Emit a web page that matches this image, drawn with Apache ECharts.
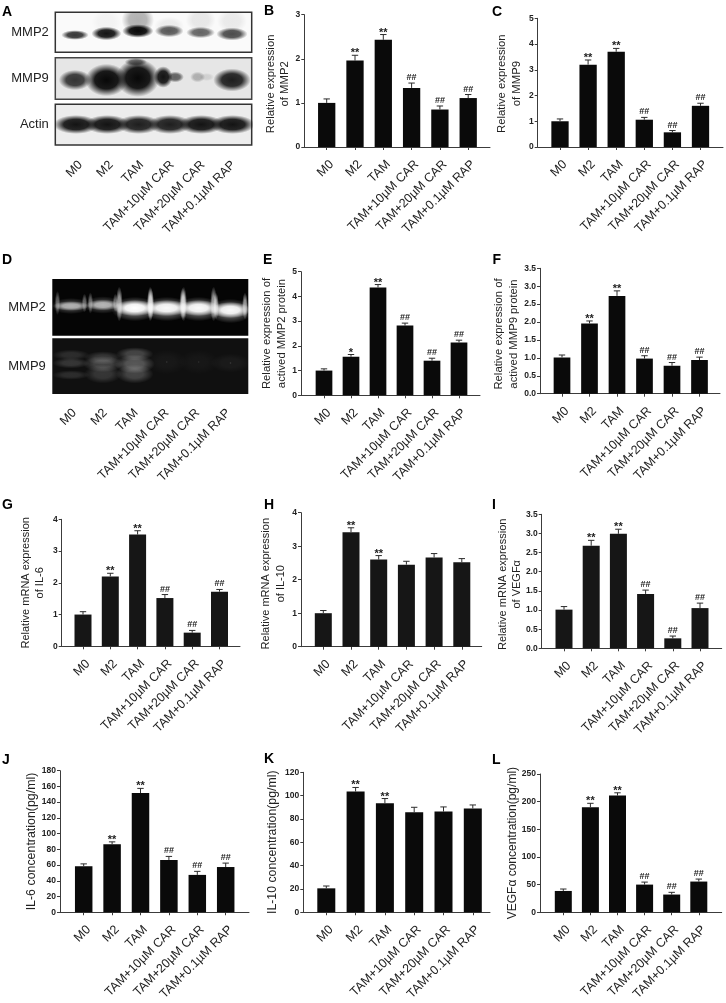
<!DOCTYPE html>
<html>
<head>
<meta charset="utf-8">
<style>html,body{margin:0;padding:0;background:#fff}#chart{width:726px;height:1003px;filter:blur(0.45px)}</style>
<script src="https://cdn.jsdelivr.net/npm/echarts@6/dist/echarts.min.js"></script>
</head>
<body>
<div id="chart"></div>
<script>
// ---------- data ----------
const categories = ['M0','M2','TAM','TAM+10µM CAR','TAM+20µM CAR','TAM+0.1µM RAP'];

const mmp2Protein      = [1.0,1.96,2.43,1.34,0.85,1.11];
const mmp2ProteinTop   = [1.09,2.08,2.55,1.45,0.93,1.19];
const mmp2ProteinSig   = ['','**','**','##','##','##'];
const mmp9Protein      = [1.0,3.2,3.7,1.06,0.57,1.6];
const mmp9ProteinTop   = [1.09,3.38,3.83,1.15,0.64,1.7];
const mmp9ProteinSig   = ['','**','**','##','##','##'];
const mmp2Active       = [1.0,1.56,4.36,2.82,1.4,2.14];
const mmp2ActiveTop    = [1.07,1.65,4.48,2.92,1.5,2.23];
const mmp2ActiveSig    = ['','*','**','##','##','##'];
const mmp9Active       = [1.01,1.96,2.73,0.98,0.78,0.94];
const mmp9ActiveTop    = [1.08,2.03,2.87,1.06,0.87,1.02];
const mmp9ActiveSig    = ['','**','**','##','##','##'];
const il6Mrna          = [1.0,2.2,3.52,1.52,0.43,1.72];
const il6MrnaTop       = [1.09,2.3,3.64,1.63,0.5,1.79];
const il6MrnaSig       = ['','**','**','##','##','##'];
const il10Mrna         = [1.0,3.42,2.6,2.45,2.66,2.52];
const il10MrnaTop      = [1.08,3.55,2.72,2.55,2.78,2.63];
const il10MrnaSig      = ['','**','**','','',''];
const vegfMrna         = [1.01,2.68,2.99,1.42,0.26,1.05];
const vegfMrnaTop      = [1.09,2.82,3.11,1.52,0.32,1.18];
const vegfMrnaSig      = ['','**','**','##','##','##'];
const il6Conc          = [58.5,86.5,151.5,66.5,47.5,57.5];
const il6ConcTop       = [61.5,89.5,157.5,71,52,62.5];
const il6ConcSig       = ['','**','**','##','##','##'];
const il10Conc         = [20.5,103.5,93.5,85.8,86.3,89];
const il10ConcTop      = [22.5,107,97.5,90,90.3,92];
const il10ConcSig      = ['','**','**','','',''];
const vegfConc         = [38.5,190,211,50,32,55.5];
const vegfConcTop      = [42,197,216,54.5,36,60];
const vegfConcSig      = ['','**','**','##','##','##'];

// blot band strengths, lane by lane
const wbMmp2   = [0.8,0.95,1.0,0.65,0.62,0.72];
const wbMmp2Up = [0,0.03,0.3,0.06,0.08,0.07];
const wbMmp9   = [0.8,1.0,1.0,0.95,0.25,0.9];
const wbActin  = [0.95,0.95,0.9,0.9,0.95,0.95];
const gelMmp2  = [0.6,0.62,1.0,0.97,0.97,0.97];
const gelMmp9  = [0.27,0.36,0.5,0.08,0.07,0.1];

// ---------- layout ----------
const FONT = '"Liberation Sans", Arial, sans-serif';
const BAR = '#0a0a0a', AXIS = '#3c3c3c', TEXT = '#222';
const panels = [
 {v:mmp2Protein,t:mmp2ProteinTop,s:mmp2ProteinSig,name:'Relative expression\nof MMP2',fs:11.3,pad:6,max:3,step:1,l:304.3,r:490,top:14.7,bot:147,c0:326.7,dx:28.3,w:17.3,gap:12},
 {v:mmp9Protein,t:mmp9ProteinTop,s:mmp9ProteinSig,name:'Relative expression\nof MMP9',fs:11.3,pad:2,max:5,step:1,l:537.7,r:723,top:18.3,bot:147,c0:560,dx:28.1,w:17.3,gap:14},
 {v:mmp2Active,t:mmp2ActiveTop,s:mmp2ActiveSig,name:'Relative expression of\nactived MMP2 protein',fs:11.3,pad:0,max:5,step:1,l:301,r:480,top:271.7,bot:395.3,c0:324,dx:27,w:16.7,gap:12},
 {v:mmp9Active,t:mmp9ActiveTop,s:mmp9ActiveSig,name:'Relative expression of\nactived MMP9 protein',fs:11.3,pad:6,max:3.5,step:0.5,dec:1,l:540,r:720,top:268.3,bot:393.7,c0:562,dx:27.5,w:16.7,gap:19},
 {v:il6Mrna,t:il6MrnaTop,s:il6MrnaSig,name:'Relative mRNA expression\nof IL-6',fs:11,pad:0,max:4,step:1,l:61.7,r:240,top:519.3,bot:646.3,c0:83,dx:27.3,w:17,gap:14,dark:1},
 {v:il10Mrna,t:il10MrnaTop,s:il10MrnaSig,name:'Relative mRNA expression\nof IL-10',fs:11,pad:8,max:4,step:1,l:301,r:481.7,top:512.7,bot:646.7,c0:323.3,dx:27.7,w:17,gap:13,dark:1},
 {v:vegfMrna,t:vegfMrnaTop,s:vegfMrnaSig,name:'Relative mRNA expression\nof VEGFα',fs:11,pad:6,max:3.5,step:0.5,dec:1,l:541.7,r:721.7,top:514.3,bot:648.3,c0:564,dx:27.2,w:17,gap:17,dark:1},
 {v:il6Conc,t:il6ConcTop,s:il6ConcSig,name:'IL-6 concentration(pg/ml)',fs:12.4,pad:0,max:180,step:20,l:60,r:249,top:770.7,bot:913,c0:83.7,dx:28.4,w:17.5,gap:21},
 {v:il10Conc,t:il10ConcTop,s:il10ConcSig,name:'IL-10 concentration(pg/ml)',fs:12.3,pad:0,max:120,step:20,l:303.3,r:490,top:772.3,bot:914.3,c0:326.3,dx:29.3,w:18,gap:23},
 {v:vegfConc,t:vegfConcTop,s:vegfConcSig,name:'VEGFα concentration(pg/ml)',fs:12,pad:0,max:250,step:50,l:540,r:721.7,top:774,bot:912.3,c0:563.3,dx:27.1,w:17,gap:20}
];

const letters = [['A',2,5],['B',264,4],['C',492,5],['D',2,253],['E',263,253],['F',492.5,253],['G',2,498],['H',264,498],['I',492,498],['J',2,753.5],['K',264,752.5],['L',492,753.5]];

// blot rows: box, lane spacing, and blob shape rules
const blotRows = [
 {name:'MMP2',l:55.3,r:251.7,top:12.3,bot:52.3,c0:75,dx:31.4,bg:'#fafafa',border:'#333',label:false,kind:'wb',
  sets:[{s:wbMmp2,rx:[11,12,12.5,11.5,11.5,12.5],ry:[3.6,5,5,4.6,4.2,4.8],cy:[35,33.5,31,31,32.5,34]},
        {s:wbMmp2Up,rx:[11,12,13,12,12,12],ry:[9,9,11,7,9,9],cy:[25,22,20,26,20,21]}]},
 {name:'MMP9',l:55.3,r:251.7,top:57.7,bot:99.3,c0:75,dx:31.4,bg:'#e6e6e6',border:'#444',label:false,kind:'wb',
  sets:[{s:wbMmp9,rx:[13,17,17.5,7.5,6,15],ry:[7.5,12,14,8,4,8.5],cy:[80,80,78,77,77,80],off:[0,0,0,-6,-3,0]},
        {s:[0,0,0.55,0.6,0.1,0],rx:[1,1,9,7,6,1],ry:[1,1,3,4,3,1],cy:[80,80,62,77,77,80],off:[0,0,-2,6,6,0]}]},
 {name:'Actin',l:55.3,r:251.7,top:104.3,bot:145,c0:76,dx:31.3,bg:'#ededed',border:'#333',label:true,labelC0:80.5,labelDx:30.6,margin:18,kind:'wb',
  sets:[{s:wbActin,rx:[18,18,17.5,17.5,18,18],ry:[7,7,7,7,7,7],cy:[124.5,124.5,124.5,124.5,124.5,124.5]}]},
 {name:'MMP2',l:52.3,r:248.3,top:279,bot:335.7,c0:71,dx:31.9,bg:'#050505',border:'#050505',label:false,kind:'gel',
  sets:[{s:gelMmp2,k:0.4,rx:[16,15,19,20,19,18],ry:[6,6.5,9,9,9,9],cy:[306,305,309,309,309,311]},
        {s:gelMmp2,rx:[14.5,13.5,17,18,16.5,16],ry:[3.6,4,6,6,6,6],cy:[306,305,308,308,308,310]},
        {s:gelMmp2,k:0.6,rx:[2.2,2.2,2.8,2.8,2.8,2.4],ry:[9,8,13,12,13,10],cy:[303,303,304,304,304,306],off:[-13.5,-12.5,-15.5,-16,-15,-14.5]},
        {s:gelMmp2,k:0.6,rx:[2.2,2.2,2.8,2.8,2.8,2.4],ry:[7,7,13,12,13,10],cy:[303,303,304,304,304,306],off:[13.5,12.5,15.5,16,15,14.5]}]},
 {name:'MMP9',l:52.3,r:248.3,top:338.3,bot:394,c0:71,dx:31.9,bg:'#101010',border:'#101010',label:true,labelC0:74.5,labelDx:30.8,margin:17,kind:'gel',
  sets:[{s:gelMmp9,k:0.45,rx:[15,15,15,16,16,16],ry:[4,5,5,9,9,7],cy:[355,358,354,362,362,363]},
        {s:gelMmp9,k:0.6,rx:[15,16,16,1,1,1],ry:[4,6,7,1,1,1],cy:[363,364,364,362,362,363]},
        {s:gelMmp9,k:0.45,rx:[15,15,15,1,1,1],ry:[3.5,7,7,1,1,1],cy:[375,374,374,362,362,363]}]}
];

const labelStyle = {fontFamily:FONT,fontSize:12.5,color:TEXT};
const grid=[],xAxis=[],yAxis=[],series=[];

function sigFont(txt){ return txt.indexOf('*')>=0 ? 11 : 9; }

panels.forEach(function(p,i){
  const shift=5/p.dx;
  grid.push({left:p.l,top:p.top,width:p.r-p.l,height:p.bot-p.top,containLabel:false});
  xAxis.push({type:'value',gridIndex:i,min:(p.l-p.c0)/p.dx,max:(p.r-p.c0)/p.dx,
    splitLine:{show:false},
    axisLine:{show:true,onZero:false,lineStyle:{color:AXIS,width:1}},
    axisTick:{show:true,length:3,lineStyle:{color:AXIS},customValues:[0,1,2,3,4,5]},
    axisLabel:Object.assign({rotate:45,margin:15.5,customValues:[0,1,2,3,4,5].map(function(k){return k+shift;}),formatter:function(v){return categories[Math.round(v)];}},labelStyle)});
  yAxis.push({type:'value',gridIndex:i,min:0,max:p.max,interval:p.step,
    name:p.name,nameLocation:'middle',nameGap:p.gap,nameMoveOverlap:false,
    nameTextStyle:{fontFamily:FONT,fontSize:p.fs,lineHeight:14.5,color:TEXT,padding:[0,p.pad,0,0]},
    splitLine:{show:false},
    axisLine:{show:true,onZero:false,lineStyle:{color:AXIS,width:1}},
    axisTick:{show:true,length:3,lineStyle:{color:AXIS}},
    axisLabel:{fontFamily:FONT,fontSize:8.5,fontWeight:'bold',color:TEXT,margin:4,
      formatter:function(v){return p.dec?v.toFixed(p.dec):String(v);}}});
  series.push({type:'bar',xAxisIndex:i,yAxisIndex:i,barWidth:p.w,silent:true,
    itemStyle:{color:p.dark?'#161616':BAR},
    data:p.v.map(function(v,k){return [k,v];})});
  series.push({type:'custom',xAxisIndex:i,yAxisIndex:i,silent:true,z:3,clip:false,
    data:p.v.map(function(v,k){return [k,v,p.t[k]];}),
    encode:{x:0,y:[1,2]},
    renderItem:function(params,api){
      const k=api.value(0);
      const a=api.coord([k,api.value(1)]), b=api.coord([k,api.value(2)]);
      const st={stroke:'#2c2c2c',lineWidth:1,fill:null};
      const kids=[
        {type:'line',shape:{x1:a[0],y1:a[1],x2:a[0],y2:b[1]},style:st},
        {type:'line',shape:{x1:a[0]-3.2,y1:b[1],x2:a[0]+3.2,y2:b[1]},style:st}
      ];
      const s=p.s[k];
      if(s){
        const star=s.indexOf('*')>=0;
        kids.push({type:'text',x:a[0],y:b[1]+(star?3.5:-1),style:{text:s,fontFamily:FONT,fontWeight:'bold',fontSize:sigFont(s),fill:'#222',align:'center',verticalAlign:'bottom'}});
      }
      return {type:'group',children:kids};
    }});
});

blotRows.forEach(function(r){
  const i=grid.length;
  grid.push({show:true,left:r.l,top:r.top,width:r.r-r.l,height:r.bot-r.top,backgroundColor:r.bg,borderColor:r.border,borderWidth:r.kind==='wb'?1.5:0,containLabel:false});
  const lc0=r.label?r.labelC0:r.c0, ldx=r.label?r.labelDx:r.dx;
  xAxis.push({type:'value',gridIndex:i,min:(r.l-lc0)/ldx,max:(r.r-lc0)/ldx,
    splitLine:{show:false},axisLine:{show:false},axisTick:{show:false},
    axisLabel:Object.assign({show:r.label,rotate:45,margin:r.margin||15,customValues:[0,1,2,3,4,5],formatter:function(v){return categories[Math.round(v)];}},labelStyle)});
  yAxis.push({type:'value',gridIndex:i,min:r.top,max:r.bot,inverse:true,
    name:r.name,nameLocation:'middle',nameRotate:0,nameGap:6.5,nameMoveOverlap:false,
    nameTextStyle:{fontFamily:FONT,fontSize:13,color:TEXT,align:'right',verticalAlign:'middle'},
    splitLine:{show:false},axisLine:{show:false},axisTick:{show:false},axisLabel:{show:false}});
  const rgb=r.kind==='wb'?'8,8,8':'255,255,255';
  const data=[];
  r.sets.forEach(function(set,si){
    set.s.forEach(function(val,lane){
      if(val>0) data.push([lane,set.cy[lane],val*(set.k||1),si]);
    });
  });
  series.push({type:'custom',xAxisIndex:i,yAxisIndex:i,silent:true,clip:true,z:2,data:data,
    renderItem:function(params,api){
      const lane=api.value(0),si=api.value(3),val=api.value(2),set=r.sets[si];
      const pos=api.coord([(r.c0+r.dx*lane-lc0)/ldx+((set.off?set.off[lane]:0))/ldx,api.value(1)]);
      const rx=set.rx[lane]*1.25,ry=set.ry[lane]*1.35;
      const mid=r.kind==='wb'?0.55:0.45;
      return {type:'circle',x:pos[0],y:pos[1],scaleX:rx/ry,scaleY:1,
        shape:{cx:0,cy:0,r:ry},
        style:{fill:new echarts.graphic.RadialGradient(0.5,0.5,0.5,[
          {offset:0,color:'rgba('+rgb+','+val+')'},
          {offset:mid,color:'rgba('+rgb+','+(val*0.92)+')'},
          {offset:1,color:'rgba('+rgb+',0)'}])}};
    }});
});

const chart=echarts.init(document.getElementById('chart'),null,{renderer:'canvas'});
chart.setOption({
  animation:false,backgroundColor:'#fff',
  grid:grid,xAxis:xAxis,yAxis:yAxis,series:series,
  graphic:letters.map(function(a){
    return {type:'text',left:a[1],top:a[2],silent:true,
      style:{text:a[0],fontFamily:FONT,fontSize:14,fontWeight:'bold',fill:'#000'}};
  })
});
</script>
</body>
</html>
